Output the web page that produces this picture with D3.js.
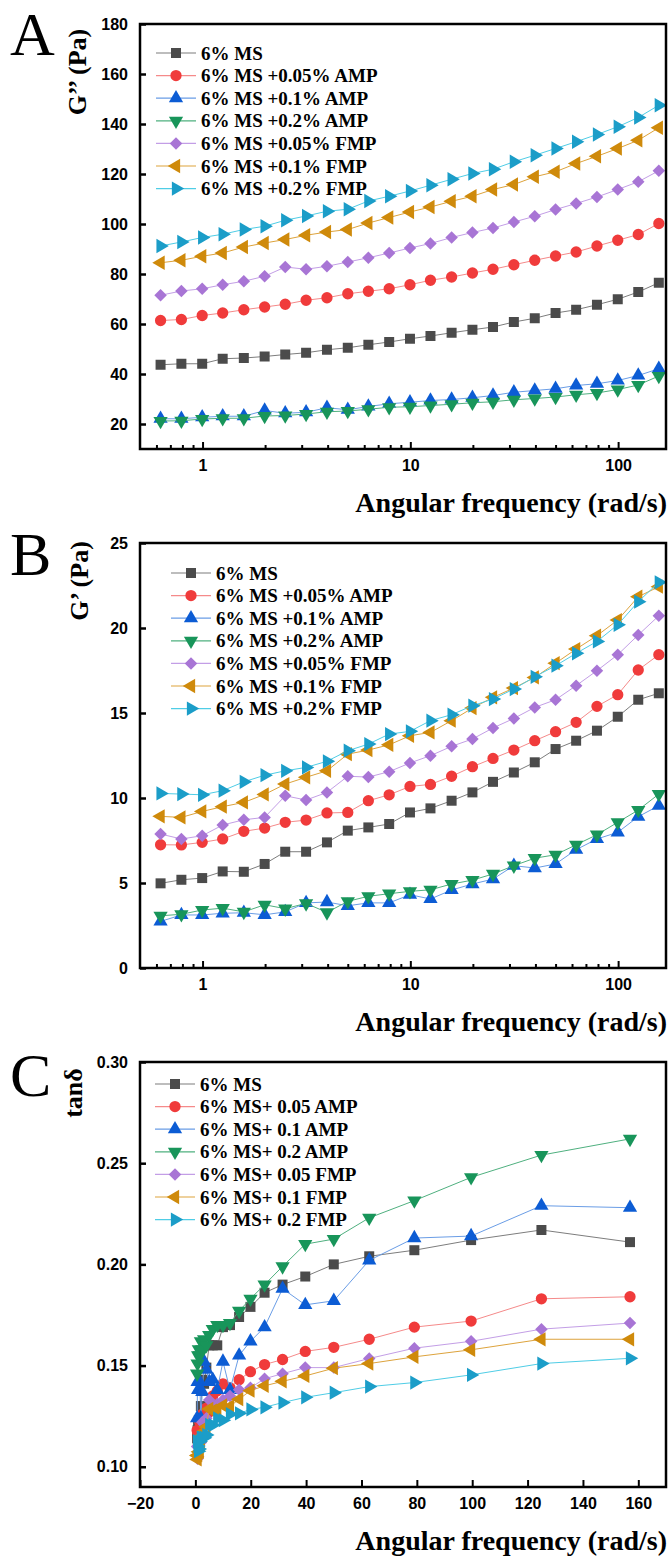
<!DOCTYPE html>
<html>
<head>
<meta charset="utf-8">
<script src="https://cdn.jsdelivr.net/npm/d3@7"></script>
<style>
  body { margin: 0; background: #fff; }
  .tick text { font-family: "Liberation Sans", Arial, sans-serif; font-weight: bold; font-size: 16px; }
</style>
</head>
<body>
<div id="d3-container"></div>
<script>
// angular frequency (rad/s)
const freq = [0.628, 0.791, 0.996, 1.25, 1.58, 1.99, 2.5, 3.15, 3.97, 5, 6.28, 7.91, 9.96,
  12.5, 15.8, 19.9, 25, 31.5, 39.7, 50, 62.8, 79.1, 99.6, 125, 157];

const labelsAB = ['6% MS', '6% MS +0.05% AMP', '6% MS +0.1% AMP', '6% MS +0.2% AMP',
  '6% MS +0.05% FMP', '6% MS +0.1% FMP', '6% MS +0.2% FMP'];
const labelsC = ['6% MS', '6% MS+ 0.05 AMP', '6% MS+ 0.1 AMP', '6% MS+ 0.2 AMP',
  '6% MS+ 0.05 FMP', '6% MS+ 0.1 FMP', '6% MS+ 0.2 FMP'];

// panel A : G'' (Pa)
const lossMS = [43.7, 44.1, 44.1, 46.1, 46.4, 47.0, 47.8, 48.5, 49.7, 50.5, 51.7, 52.8, 54.1, 55.2, 56.5, 57.7, 58.8, 60.8, 62.3, 64.4, 65.7, 67.7, 69.9, 72.8, 76.5];
const lossAMP005 = [61.4, 61.8, 63.4, 64.4, 65.7, 66.8, 67.9, 69.5, 70.5, 72.1, 73.1, 74.1, 75.7, 77.5, 78.8, 80.4, 81.9, 83.7, 85.5, 87.2, 88.8, 91.2, 93.5, 95.8, 100.2];
const lossAMP01 = [22.1, 22.1, 22.7, 23.1, 23.1, 25.4, 24.3, 24.7, 26.5, 25.7, 27.0, 28.1, 28.7, 29.4, 29.8, 30.5, 31.4, 32.7, 33.4, 34.1, 35.4, 36.1, 37.4, 39.4, 42.1];
const lossAMP02 = [21.2, 21.3, 22.0, 22.3, 22.3, 23.2, 23.4, 24.0, 24.9, 25.2, 25.9, 26.7, 26.9, 27.4, 27.9, 28.5, 28.9, 29.7, 30.2, 30.8, 31.7, 32.4, 33.8, 35.6, 39.2];
const lossFMP005 = [71.5, 73.2, 74.1, 75.7, 77.1, 79.1, 82.8, 81.9, 83.1, 84.8, 86.5, 88.4, 90.4, 92.2, 94.6, 96.6, 98.4, 100.8, 103.1, 105.8, 108.2, 110.8, 113.8, 116.9, 121.3];
const lossFMP01 = [84.5, 85.5, 87.1, 88.4, 90.8, 92.4, 93.8, 95.5, 96.8, 97.8, 100.4, 102.6, 104.8, 106.8, 109.1, 111.1, 113.8, 115.8, 118.9, 120.9, 124.2, 127.1, 130.2, 133.5, 138.5];
const lossFMP02 = [91.2, 92.8, 94.6, 95.9, 97.8, 99.1, 101.5, 103.2, 105.1, 105.9, 109.2, 111.1, 113.2, 115.5, 117.9, 120.2, 121.9, 124.9, 127.5, 130.2, 132.9, 135.8, 138.9, 142.6, 147.5];

// panel B : G' (Pa)
const storMS = [4.98, 5.19, 5.29, 5.68, 5.66, 6.12, 6.84, 6.84, 7.39, 8.08, 8.27, 8.47, 9.15, 9.39, 9.84, 10.33, 10.95, 11.5, 12.1, 12.88, 13.37, 13.96, 14.78, 15.78, 16.16];
const storAMP005 = [7.25, 7.24, 7.39, 7.59, 8.04, 8.23, 8.57, 8.70, 9.12, 9.15, 9.84, 10.19, 10.68, 10.8, 11.28, 11.84, 12.33, 12.82, 13.37, 13.9, 14.45, 15.39, 16.08, 17.53, 18.43];
const storAMP01 = [2.74, 3.12, 3.12, 3.22, 3.25, 3.13, 3.3, 3.83, 3.88, 3.66, 3.83, 3.83, 4.31, 4.06, 4.59, 4.94, 5.23, 6.02, 5.88, 6.12, 6.96, 7.59, 7.98, 8.9, 9.55];
const storAMP02 = [3.07, 3.16, 3.41, 3.52, 3.3, 3.72, 3.49, 3.8, 3.27, 3.92, 4.22, 4.37, 4.51, 4.6, 4.94, 5.17, 5.53, 6.02, 6.46, 6.66, 7.25, 7.84, 8.57, 9.29, 10.23];
const storFMP005 = [7.88, 7.59, 7.78, 8.41, 8.72, 8.86, 10.13, 9.88, 10.33, 11.28, 11.23, 11.55, 12.06, 12.49, 13.04, 13.47, 14.12, 14.68, 15.33, 15.78, 16.61, 17.49, 18.43, 19.59, 20.72];
const storFMP01 = [8.92, 8.86, 9.21, 9.49, 9.74, 10.21, 10.82, 11.22, 11.6, 12.58, 12.82, 13.13, 13.66, 13.86, 14.55, 15.29, 15.92, 16.47, 17.09, 17.93, 18.76, 19.55, 20.47, 21.84, 22.43];
const storFMP02 = [10.27, 10.23, 10.19, 10.43, 10.95, 11.34, 11.6, 11.8, 12.16, 12.78, 13.17, 13.76, 13.92, 14.55, 14.9, 15.43, 15.82, 16.41, 17.13, 17.78, 18.51, 19.21, 20.19, 21.55, 22.69];

// panel C : tan delta
const tanMS = [0.114, 0.118, 0.120, 0.123, 0.122, 0.130, 0.143, 0.141, 0.149, 0.160, 0.160, 0.160, 0.169, 0.170, 0.174, 0.179, 0.186, 0.190, 0.194, 0.200, 0.204, 0.207, 0.212, 0.217, 0.211];
const tanAMP005 = [0.118, 0.117, 0.117, 0.118, 0.122, 0.123, 0.126, 0.125, 0.129, 0.127, 0.135, 0.1375, 0.141, 0.139, 0.143, 0.147, 0.1505, 0.153, 0.157, 0.159, 0.163, 0.169, 0.172, 0.183, 0.184];
const tanAMP01 = [0.124, 0.142, 0.138, 0.142, 0.142, 0.124, 0.137, 0.152, 0.148, 0.142, 0.143, 0.138, 0.152, 0.138, 0.155, 0.162, 0.169, 0.188, 0.180, 0.182, 0.202, 0.213, 0.214, 0.229, 0.228];
const tanAMP02 = [0.146, 0.151, 0.155, 0.158, 0.155, 0.162, 0.158, 0.163, 0.160, 0.165, 0.168, 0.170, 0.170, 0.171, 0.177, 0.183, 0.190, 0.199, 0.210, 0.2125, 0.223, 0.2315, 0.243, 0.254, 0.262];
const tanFMP005 = [0.110, 0.104, 0.105, 0.111, 0.113, 0.112, 0.122, 0.121, 0.124, 0.133, 0.130, 0.131, 0.133, 0.135, 0.138, 0.139, 0.1435, 0.146, 0.149, 0.149, 0.1535, 0.1586, 0.162, 0.168, 0.171];
const tanFMP01 = [0.1056, 0.1036, 0.1057, 0.1074, 0.1073, 0.1107, 0.1154, 0.1175, 0.1198, 0.1286, 0.1277, 0.128, 0.1303, 0.1298, 0.1334, 0.1376, 0.14, 0.1422, 0.1449, 0.1487, 0.151, 0.1543, 0.1578, 0.163, 0.163];
const tanFMP02 = [0.1126, 0.1102, 0.1077, 0.1088, 0.1125, 0.1144, 0.1143, 0.1143, 0.1157, 0.1207, 0.1206, 0.1239, 0.123, 0.126, 0.1264, 0.1283, 0.1294, 0.1317, 0.1343, 0.1366, 0.1396, 0.1416, 0.1454, 0.151, 0.1536];

// ticks
const lossTicks = [20, 40, 60, 80, 100, 120, 140, 160, 180];
const storTicks = [0, 5, 10, 15, 20, 25];
const tanTicks = [0.10, 0.15, 0.20, 0.25, 0.30];
const logTicks = [1, 10, 100];
const logMinorTicks = [0.6, 0.7, 0.8, 0.9, 2, 3, 4, 5, 6, 7, 8, 9, 20, 30, 40, 50, 60, 70, 80, 90];
const linTicks = [-20, 0, 20, 40, 60, 80, 100, 120, 140, 160];

const width = 669;
const height = 1557;
const panelH = 519;
const plot = { left: 140, right: 666, top: 24, bottom: 449 };

const markerFill = ['#4b4b4b', '#f03b3b', '#0c5cd4', '#18955a', '#a875d5', '#cf8a0b', '#1b9dc8'];
const lineColor = ['#7d7d7d', '#f58a8a', '#6a9de6', '#4fb07f', '#c39ee6', '#dda33c', '#4fcde6'];
const shapes = ['square', 'circle', 'up', 'down', 'diamond', 'left', 'right'];

const serif = '"Liberation Serif", "Times New Roman", serif';

const svg = d3.select('#d3-container')
  .append('svg')
  .attr('width', width)
  .attr('height', height)
  .attr('viewBox', [0, 0, width, height]);

svg.append('rect').attr('width', width).attr('height', height).attr('fill', '#fff');

function markerPath(shape) {
  if (shape === 'square') return d3.symbol(d3.symbolSquare, 100)();
  if (shape === 'circle') return d3.symbol(d3.symbolCircle, 100)();
  if (shape === 'diamond') return d3.symbol(d3.symbolSquare, 78)();
  return d3.symbol(d3.symbolTriangle, 88)();
}

function markerRotate(shape) {
  return { diamond: 45, down: 180, left: -90, right: 90 }[shape] || 0;
}

function drawPanel(cfg) {
  const g = svg.append('g').attr('transform', `translate(0,${cfg.oy})`);
  const x = cfg.x;
  const y = cfg.y;

  // series
  cfg.series.forEach((vals, i) => {
    const pts = freq.map((f, k) => [f, vals[k]]);
    g.append('path')
      .datum(pts)
      .attr('fill', 'none')
      .attr('stroke', lineColor[i])
      .attr('stroke-width', 1)
      .attr('d', d3.line().x(d => x(d[0])).y(d => y(d[1])));
    g.append('g')
      .selectAll('path')
      .data(pts)
      .join('path')
      .attr('d', markerPath(shapes[i]))
      .attr('fill', markerFill[i])
      .attr('transform', d => `translate(${x(d[0])},${y(d[1])}) rotate(${markerRotate(shapes[i])})`);
  });

  // frame
  g.append('rect')
    .attr('x', plot.left)
    .attr('y', plot.top)
    .attr('width', plot.right - plot.left)
    .attr('height', plot.bottom - plot.top)
    .attr('fill', 'none')
    .attr('stroke', '#000')
    .attr('stroke-width', 2.5);

  // axes (ticks point inward)
  const yAxis = d3.axisLeft(y).tickValues(cfg.yTicks).tickFormat(cfg.yFormat).tickSize(-6).tickPadding(12);
  g.append('g').attr('transform', `translate(${plot.left},0)`).call(yAxis)
    .call(a => a.select('.domain').remove())
    .call(a => a.selectAll('line').attr('stroke-width', 2.5));

  const xAxis = d3.axisBottom(x).tickValues(cfg.xTicks).tickFormat(d3.format('')).tickSize(-7).tickPadding(11);
  g.append('g').attr('transform', `translate(0,${plot.bottom})`).call(xAxis)
    .call(a => a.select('.domain').remove())
    .call(a => a.selectAll('line').attr('stroke-width', 2));

  if (cfg.xMinor) {
    g.append('g').attr('transform', `translate(0,${plot.bottom})`)
      .call(d3.axisBottom(x).tickValues(cfg.xMinor).tickFormat('').tickSize(-4))
      .call(a => a.select('.domain').remove())
      .call(a => a.selectAll('line').attr('stroke-width', 2));
  }

  // axis titles
  g.append('text')
    .attr('x', 667)
    .attr('y', 512)
    .attr('text-anchor', 'end')
    .attr('font-family', serif)
    .attr('font-weight', 'bold')
    .attr('font-size', '28px')
    .text('Angular frequency (rad/s)');

  g.append('text')
    .attr('transform', `translate(${cfg.yTitleX},${cfg.yTitleY}) rotate(-90)`)
    .attr('text-anchor', 'middle')
    .attr('font-family', serif)
    .attr('font-weight', 'bold')
    .attr('font-size', '26px')
    .text(cfg.yTitle);

  // panel letter
  g.append('text')
    .attr('x', 10)
    .attr('y', cfg.letterY)
    .attr('font-family', serif)
    .attr('font-size', '62px')
    .text(cfg.letter);

  // legend
  const lg = g.append('g').attr('transform', `translate(${cfg.legX},${cfg.legY})`);
  cfg.labels.forEach((lab, i) => {
    const row = lg.append('g').attr('transform', `translate(0,${i * 22.6})`);
    row.append('line').attr('x1', 0).attr('x2', 40).attr('stroke', lineColor[i]).attr('stroke-width', 1.2);
    row.append('path')
      .attr('d', markerPath(shapes[i]))
      .attr('fill', markerFill[i])
      .attr('transform', `translate(20,0) rotate(${markerRotate(shapes[i])})`);
    row.append('text')
      .attr('x', 45)
      .attr('y', 6.5)
      .attr('font-family', serif)
      .attr('font-weight', 'bold')
      .attr('font-size', '19px')
      .text(lab);
  });
}

const xLog = d3.scaleLog().domain([0.5, 170]).range([plot.left, plot.right]);
const xLin = d3.scaleLinear().domain([-20, 170]).range([plot.left, plot.right]);

drawPanel({
  oy: 0, letter: 'A', letterY: 55,
  x: xLog, y: d3.scaleLinear().domain([10, 180]).range([plot.bottom, plot.top]),
  xTicks: logTicks, xMinor: logMinorTicks,
  yTicks: lossTicks, yFormat: d3.format('d'),
  yTitle: 'G\u2019\u2019 (Pa)', yTitleX: 86, yTitleY: 72,
  series: [lossMS, lossAMP005, lossAMP01, lossAMP02, lossFMP005, lossFMP01, lossFMP02],
  labels: labelsAB, legX: 156, legY: 53
});

drawPanel({
  oy: panelH, letter: 'B', letterY: 56,
  x: xLog, y: d3.scaleLinear().domain([0, 25]).range([plot.bottom, plot.top]),
  xTicks: logTicks, xMinor: logMinorTicks,
  yTicks: storTicks, yFormat: d3.format('d'),
  yTitle: 'G\u2019 (Pa)', yTitleX: 88, yTitleY: 62,
  series: [storMS, storAMP005, storAMP01, storAMP02, storFMP005, storFMP01, storFMP02],
  labels: labelsAB, legX: 171, legY: 54
});

drawPanel({
  oy: panelH * 2, letter: 'C', letterY: 58,
  x: xLin, y: d3.scaleLinear().domain([0.09, 0.30]).range([plot.bottom, plot.top]),
  xTicks: linTicks, xMinor: null,
  yTicks: tanTicks, yFormat: d3.format('.2f'),
  yTitle: 'tan\u03b4', yTitleX: 82, yTitleY: 55,
  series: [tanMS, tanAMP005, tanAMP01, tanAMP02, tanFMP005, tanFMP01, tanFMP02],
  labels: labelsC, legX: 155, legY: 46
});
</script>
</body>
</html>
